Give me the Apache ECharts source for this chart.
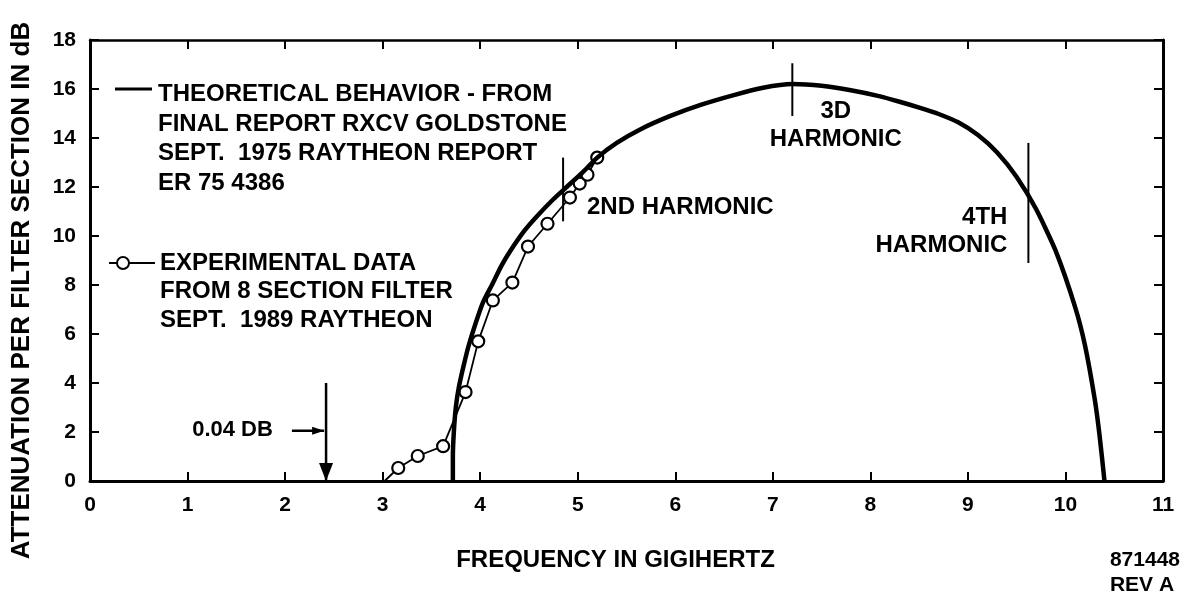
<!DOCTYPE html>
<html>
<head>
<meta charset="utf-8">
<script src="https://cdn.jsdelivr.net/npm/echarts@6/dist/echarts.min.js"></script>
<style>
  html, body { margin: 0; padding: 0; background: #fff; }
  #chart { width: 1189px; height: 597px; }
</style>
</head>
<body>
<div id="chart"></div>
<script>
// Axis ticks: frequency in GHz, attenuation in dB
const freqTicks = [0, 1, 2, 3, 4, 5, 6, 7, 8, 9, 10, 11];
const attenTicks = [0, 2, 4, 6, 8, 10, 12, 14, 16, 18];

// Theoretical attenuation per filter section
const theoFreq = [3.72, 3.72, 3.73, 3.75, 3.78, 3.83, 3.88, 3.95, 4.03, 4.12, 4.22, 4.31, 4.45, 4.58, 4.75, 4.90, 5.05, 5.20, 5.40, 5.64, 5.95, 6.26, 6.60, 6.90, 7.20, 7.50, 7.80, 8.10, 8.30, 8.51, 8.70, 8.90, 9.10, 9.30, 9.50, 9.70, 9.90, 10.10, 10.20, 10.30, 10.35, 10.40];
const theoAtten = [0, 1, 2, 3, 3.8, 4.7, 5.5, 6.4, 7.3, 8.0, 8.8, 9.4, 10.2, 10.8, 11.5, 12.05, 12.6, 13.2, 13.8, 14.35, 14.9, 15.35, 15.75, 16.05, 16.2, 16.13, 15.95, 15.7, 15.48, 15.23, 14.98, 14.64, 14.13, 13.41, 12.41, 11.09, 9.39, 7.09, 5.54, 3.34, 1.85, 0];

// Measured attenuation, 8 section filter (first entry is where the trace leaves the axis)
const expFreq = [3.02, 3.16, 3.36, 3.62, 3.85, 3.98, 4.13, 4.33, 4.49, 4.69, 4.92, 5.02, 5.10, 5.20];
const expAtten = [0, 0.53, 1.02, 1.42, 3.63, 5.7, 7.37, 8.1, 9.57, 10.5, 11.57, 12.14, 12.5, 13.2];

// Harmonic markers
const harmonicNames = ['2ND HARMONIC', '3D\nHARMONIC', '4TH\nHARMONIC'];
const harmonicFreq = [4.85, 7.2, 9.62];
const harmonicLow = [10.6, 14.9, 8.9];
const harmonicHigh = [13.2, 17.05, 13.8];

// Pass-band ripple marker
const rippleLabel = '0.04 DB';
const rippleFreq = 2.42;
const rippleTop = 4.0;
const rippleLevel = 2.05;

const FONT = '"Liberation Sans", Arial, Helvetica, sans-serif';
const INK = '#000';

const chart = echarts.init(document.getElementById('chart'), null, { renderer: 'canvas' });

const theoData = theoFreq.map((f, i) => [f, theoAtten[i]]);
const expData = expFreq.map((f, i) => expAtten[i] === 0
  ? { value: [f, expAtten[i]], symbol: 'none' }
  : [f, expAtten[i]]);

// Where each harmonic caption sits, relative to its marker
const captionLayout = [
  { dx: 0.25, a: 11.15, align: 'left' },
  { dx: 0.45, a: 14.5, align: 'center' },
  { dx: -0.21, a: 10.15, align: 'right' }
];

const harmonicSeries = harmonicFreq.map((f, i) => ({
  type: 'line',
  data: [[f, harmonicLow[i]], [f, harmonicHigh[i]]],
  symbol: 'none',
  lineStyle: { color: INK, width: 2 },
  silent: true,
  z: 4
}));

const captionSeries = {
  type: 'scatter',
  symbolSize: 1,
  itemStyle: { color: 'rgba(0,0,0,0)', opacity: 1 },
  silent: true,
  z: 5,
  data: harmonicFreq.map((f, i) => ({
    value: [f + captionLayout[i].dx, captionLayout[i].a],
    label: {
      show: true,
      position: [0, 0],
      formatter: harmonicNames[i],
      align: captionLayout[i].align,
      verticalAlign: 'middle',
      fontFamily: FONT,
      fontWeight: 'bold',
      fontSize: 24,
      lineHeight: 28,
      color: INK,
      opacity: 1
    }
  }))
};

// Vertical ripple arrow with a filled head on the axis
const rippleDrop = {
  type: 'line',
  data: [
    { value: [rippleFreq, rippleTop], symbol: 'none' },
    { value: [rippleFreq, 0], symbol: 'triangle', symbolSize: [14, 18], symbolRotate: 180, symbolOffset: [0, -9] }
  ],
  lineStyle: { color: INK, width: 2.5 },
  itemStyle: { color: INK },
  silent: true,
  z: 4
};

// Short pointer from the ripple caption to the arrow
const ripplePointer = {
  type: 'line',
  data: [
    { value: [2.07, rippleLevel], symbol: 'none' },
    { value: [2.40, rippleLevel], symbol: 'triangle', symbolSize: [8, 12], symbolRotate: -90, symbolOffset: [-6, 0] }
  ],
  lineStyle: { color: INK, width: 2.5 },
  itemStyle: { color: INK },
  silent: true,
  z: 4
};

const rippleCaption = {
  type: 'scatter',
  symbolSize: 1,
  itemStyle: { color: 'rgba(0,0,0,0)', opacity: 1 },
  silent: true,
  data: [{
    value: [1.88, rippleLevel],
    label: {
      show: true, position: [0, 0], formatter: rippleLabel,
      align: 'right', verticalAlign: 'middle',
      fontFamily: FONT, fontWeight: 'bold', fontSize: 22, color: INK, opacity: 1
    }
  }]
};

const axisFont = { fontFamily: FONT, fontWeight: 'bold', fontSize: 21, color: INK };

chart.setOption({
  animation: false,
  backgroundColor: '#fff',
  grid: { left: 90, right: 26, top: 40, bottom: 116, containLabel: false, outerBoundsMode: 'none' },
  xAxis: [
    {
      type: 'value', position: 'bottom',
      min: freqTicks[0], max: freqTicks[freqTicks.length - 1], interval: freqTicks[1] - freqTicks[0],
      name: 'FREQUENCY IN GIGIHERTZ', nameLocation: 'middle', nameGap: 67,
      nameTextStyle: { fontFamily: FONT, fontWeight: 'bold', fontSize: 24, color: INK, padding: [0, 22, 0, 0] },
      axisLine: { show: true, onZero: false, lineStyle: { color: INK, width: 3 } },
      axisTick: { show: true, inside: true, length: 9, lineStyle: { color: INK, width: 2 } },
      axisLabel: Object.assign({ margin: 14 }, axisFont),
      splitLine: { show: false }
    },
    {
      type: 'value', position: 'top',
      min: freqTicks[0], max: freqTicks[freqTicks.length - 1], interval: freqTicks[1] - freqTicks[0],
      axisLine: { show: true, onZero: false, lineStyle: { color: INK, width: 2.5 } },
      axisTick: { show: true, inside: true, length: 9, lineStyle: { color: INK, width: 2 } },
      axisLabel: { show: false },
      splitLine: { show: false }
    }
  ],
  yAxis: [
    {
      type: 'value', position: 'left',
      min: attenTicks[0], max: attenTicks[attenTicks.length - 1], interval: attenTicks[1] - attenTicks[0],
      name: 'ATTENUATION PER FILTER SECTION IN dB', nameLocation: 'middle', nameGap: 55, nameRotate: 90,
      nameTextStyle: { fontFamily: FONT, fontWeight: 'bold', fontSize: 26, color: INK, padding: [0, 60, 0, 0] },
      axisLine: { show: true, onZero: false, lineStyle: { color: INK, width: 3 } },
      axisTick: { show: true, inside: true, length: 9, lineStyle: { color: INK, width: 2 } },
      axisLabel: Object.assign({ margin: 14 }, axisFont),
      splitLine: { show: false }
    },
    {
      type: 'value', position: 'right',
      min: attenTicks[0], max: attenTicks[attenTicks.length - 1], interval: attenTicks[1] - attenTicks[0],
      axisLine: { show: true, onZero: false, lineStyle: { color: INK, width: 3 } },
      axisTick: { show: true, inside: true, length: 9, lineStyle: { color: INK, width: 2 } },
      axisLabel: { show: false },
      splitLine: { show: false }
    }
  ],
  series: [
    {
      name: 'EXPERIMENTAL DATA',
      type: 'line',
      data: expData,
      symbol: 'circle',
      symbolSize: 12,
      showAllSymbol: true,
      lineStyle: { color: INK, width: 1.8 },
      itemStyle: { color: '#fff', borderColor: INK, borderWidth: 2.2 },
      z: 2
    },
    {
      name: 'THEORETICAL BEHAVIOR',
      type: 'line',
      data: theoData,
      symbol: 'none',
      smooth: 0.2,
      lineStyle: { color: INK, width: 4.5 },
      z: 3
    },
    ...harmonicSeries,
    captionSeries,
    rippleDrop,
    ripplePointer,
    rippleCaption
  ],
  graphic: [
    { type: 'line', shape: { x1: 115, y1: 89, x2: 152, y2: 89 }, style: { stroke: INK, lineWidth: 3 } },
    {
      type: 'text', left: 158, top: 80,
      style: {
        text: 'THEORETICAL BEHAVIOR - FROM\nFINAL REPORT RXCV GOLDSTONE\nSEPT.  1975 RAYTHEON REPORT\nER 75 4386',
        font: 'bold 24px ' + FONT, fill: INK, lineHeight: 29.5
      }
    },
    { type: 'line', shape: { x1: 109, y1: 263, x2: 155, y2: 263 }, style: { stroke: INK, lineWidth: 2 } },
    { type: 'circle', shape: { cx: 123, cy: 263, r: 6 }, style: { fill: '#fff', stroke: INK, lineWidth: 2 } },
    {
      type: 'text', left: 160, top: 249,
      style: {
        text: 'EXPERIMENTAL DATA\nFROM 8 SECTION FILTER\nSEPT.  1989 RAYTHEON',
        font: 'bold 24px ' + FONT, fill: INK, lineHeight: 28.5
      }
    },
    {
      type: 'text', right: 9, top: 548,
      style: {
        text: '871448\nREV A', align: 'right',
        font: 'bold 21px ' + FONT, fill: INK, lineHeight: 25
      }
    }
  ]
});
</script>
</body>
</html>
